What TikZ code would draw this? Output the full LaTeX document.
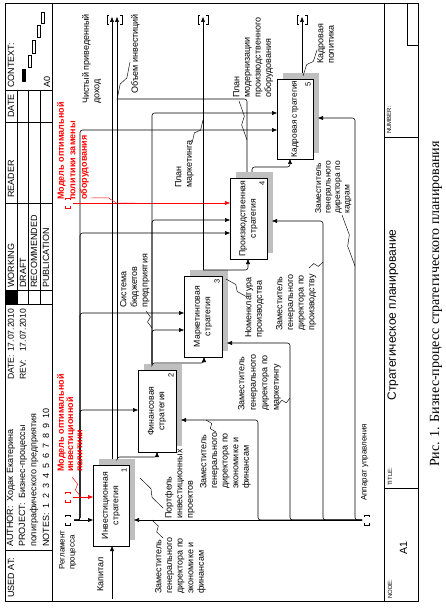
\documentclass[tikz,border=0pt]{standalone}
\usepackage{fontspec}
\setmainfont{Liberation Sans}
\newfontfamily\capfont{Liberation Serif}
\usetikzlibrary{arrows.meta,calc}
\newcommand\zigline[3][black]{\draw[lead,#1] (#2) -- ($(#2)!0.4!(#3)!2.2pt!90:(#3)$) -- ($(#2)!0.6!(#3)!2.2pt!-90:(#3)$) -- (#3);}
\begin{document}
\begin{tikzpicture}[x=1pt,y=-1pt,
  conn/.style={draw, line width=0.55pt, rounded corners=2.5pt},
  arr/.style={conn, -{Triangle[length=5pt,width=3.8pt]}},
  lead/.style={draw, line width=0.45pt},
  frm/.style={draw, line width=0.7pt},
  thn/.style={draw, line width=0.5pt},
  shd/.style={fill=black!25},
  box/.style={draw, line width=0.7pt, fill=white, rotate=90, align=center, inner sep=0.5pt, font=\fontsize{8.7}{10.5}\selectfont},
  num/.style={rotate=90, inner sep=0pt, font=\fontsize{7.5}{8}\selectfont},
  lbl/.style={rotate=90, anchor=north west, align=left, inner sep=0pt, font=\fontsize{9}{10.6}\selectfont},
  rlbl/.style={lbl, text=red, font=\fontsize{9}{9.2}\selectfont\bfseries},
  hdr/.style={rotate=90, anchor=west, inner sep=0pt, font=\fontsize{9}{10}\selectfont},
  sml/.style={rotate=90, anchor=west, inner sep=0pt, font=\fontsize{6}{7}\selectfont},
  tun/.style={draw, line width=0.5pt},
]
\useasboundingbox (0,0) rectangle (445,609);
% ---------- frame ----------
\draw[frm] (5,3) rectangle (418,601);
\draw[frm] (52,3) -- (52,601);
\draw[frm] (384,3) -- (384,601);
% header separators
\foreach \yy in {550,304,203,122,90} \draw[thn] (5,\yy) -- (52,\yy);
\draw[thn] (5,290) -- (52,290);
\foreach \xx in {17,28,40} \draw[thn] (\xx,90) -- (\xx,304);
\fill (5,290) rectangle (17,304);
% footer separators
\draw[thn] (384,488) -- (418,488);
\draw[thn] (384,137) -- (418,137);
\draw[thn] (407,3) |- (418,45);
% context mini diagram
\fill (22,69) rectangle (26,82);
\draw[thn] (28,55) rectangle (31,67);
\draw[thn] (32,40) rectangle (35,53);
\draw[thn] (37,25) rectangle (40,37);
\draw[thn] (41,12) rectangle (44,23);
% header texts
\node[hdr] (hUsed) at (11,598) {USED AT:};
\node[hdr] (hAuth) at (11,547) {AUTHOR:\ \ Ходак Екатерина};
\node[hdr] (hProj) at (23,547) {PROJECT:\ \ Бизнес-процессы};
\node[hdr] (hProj2) at (34,547) {полиграфического предприятия};
\node[hdr] (hNotes) at (46,547) {NOTES:\ \ 1\ \ 2\ \ 3\ \ 4\ \ 5\ \ 6\ \ 7\ \ 8\ \ 9\ \ 10};
\node[hdr, font=\fontsize{8.6}{10}\selectfont] (hDate) at (11,380) {\makebox[3.25em][l]{DATE:}17.07.2010};
\node[hdr, font=\fontsize{8.6}{10}\selectfont] (hRev) at (23,380) {\makebox[3.25em][l]{REV:}17.07.2010};
\node[hdr] (hW) at (11,288) {WORKING};
\node[hdr] (hD) at (23,288) {DRAFT};
\node[hdr] (hR) at (34,288) {RECOMMENDED};
\node[hdr] (hP) at (46,288) {PUBLICATION};
\node[hdr] (hReader) at (11,198) {READER};
\node[hdr] (hDate2) at (11,118) {DATE};
\node[hdr] (hCtx) at (11,88) {CONTEXT:};
\node[hdr] (hA0) at (47,88) {A0};
% footer texts
\node[sml] (fNode) at (390,599) {NODE:};
\node[rotate=90, inner sep=0pt, font=\fontsize{10.5}{12}\selectfont] (fA1) at (403.5,548.5) {A1};
\node[sml] (fTitle) at (390,486) {TITLE:};
\node[rotate=90, inner sep=0pt, font=\fontsize{12}{14}\selectfont] (fT) at (393,315) {Стратегическое планирование};
\node[sml] (fNum) at (389,134) {NUMBER:};
\node[rotate=90, inner sep=0pt, font=\capfont\fontsize{14}{16}\selectfont] (cap) at (436,304) {Рис. 1. Бизнес-процесс стратегического планирования};
% ---------- shadows ----------
\fill[shd] (99,459) rectangle (135,540);
\fill[shd] (144,364) rectangle (182,446);
\fill[shd] (190,270) rectangle (228,351);
\fill[shd] (236,172) rectangle (273,253);
\fill[shd] (283,73) rectangle (319,153);
% ---------- boxes ----------
\node[box, minimum width=81pt, minimum height=36pt] (b1) at (111,505.5) {Инвестиционная\\стратегия};
\node[box, minimum width=82pt, minimum height=38pt] (b2) at (157,411) {Финансовая\\стратегия};
\node[box, minimum width=81pt, minimum height=38pt] (b3) at (203,316.5) {Маркетинговая\\стратегия};
\node[box, minimum width=81pt, minimum height=37pt] (b4) at (248.5,218.5) {Производственная\\стратегия};
\node[box, minimum width=80pt, minimum height=36pt, font=\fontsize{8.3}{10}\selectfont] (b5) at (295,119) {Кадровая стратегия};
\node[num] (n1) at (124,470) {1};
\node[num] (n2) at (171,375) {2};
\node[num] (n3) at (217,281) {3};
\node[num] (n4) at (262,183) {4};
\node[num] (n5) at (308,84) {5};
% ---------- ports ----------
\coordinate (b1c1) at (93,497); \coordinate (b1c2) at (93,520);
\coordinate (b1i) at (112,546); \coordinate (b1o1) at (112,459); \coordinate (b1o2) at (117,459);
\coordinate (b1m) at (134,520);
\coordinate (b2c) at (138,410); \coordinate (b2i) at (157,452); \coordinate (b2o) at (152,364); \coordinate (b2m) at (181,420);
\coordinate (b3c1) at (184,313); \coordinate (b3c2) at (184,330); \coordinate (b3i) at (204,357); \coordinate (b3o) at (203,270); \coordinate (b3m) at (227,343);
\coordinate (b4c1) at (230,203); \coordinate (b4c2) at (230,220); \coordinate (b4c3) at (230,233); \coordinate (b4i) at (248,259);
\coordinate (b4o1) at (247,172); \coordinate (b4o2) at (252,172); \coordinate (b4m) at (272,221);
\coordinate (b5c1) at (277,113); \coordinate (b5c2) at (277,130); \coordinate (b5i) at (290,159); \coordinate (b5o) at (302,73); \coordinate (b5m) at (318,118);
% boundary ends
\coordinate (tL1) at (74,520); \coordinate (tL2) at (73,497); \coordinate (tL3) at (73,203);
\coordinate (tR) at (362,520);
\coordinate (tT1a) at (112,17); \coordinate (tT1b) at (117,17); \coordinate (tT2) at (203,17); \coordinate (tT3) at (302,17);
\coordinate (kap) at (112,599);
\coordinate (rail) at (80,520);
\coordinate (j1) at (117,99);
% tunnels
\draw[tun] (109,15) -- (107,15) -- (107,24) -- (109,24);
\draw[tun] (120,15) -- (122,15) -- (122,24) -- (120,24);
\draw[tun] (200,15) -- (198,15) -- (198,24) -- (200,24);
\draw[tun] (206,15) -- (208,15) -- (208,24) -- (206,24);
\draw[tun] (299,15) -- (297,15) -- (297,24) -- (299,24);
\draw[tun] (305,15) -- (307,15) -- (307,24) -- (305,24);
\foreach \yy/\cc in {520/black,497/red,203/red}{
  \draw[tun,\cc] (65,\yy-3) -- (65,\yy-5) -- (70,\yy-5) -- (70,\yy-3);
  \draw[tun,\cc] (65,\yy+3) -- (65,\yy+5) -- (70,\yy+5) -- (70,\yy+3);
}
\draw[tun] (364,517) -- (364,515) -- (369,515) -- (369,517);
\draw[tun] (364,523) -- (364,525) -- (369,525) -- (369,523);
% ---------- connectors ----------
\draw[arr] (kap) -- (b1i);
\draw[arr] (tL1) -- (b1c2);
\draw[arr] (tL1) -| (b2c -| rail) -- (b2c);
\draw[arr] (tL1) -| (b3c1 -| rail) -- (b3c1);
\draw[arr] (tL1) -| (b4c3 -| rail) -- (b4c3);
\draw[arr] (tL1) -| (b5c2 -| rail) -- (b5c2);
\draw[arr,red] (tL2) -- (b1c1);
\draw[arr,red] (tL3) -- (b4c1);
% box 1 outputs
\draw[arr] (b1o1) -- (tT1a);
\draw[arr] (b1o2) -- (tT1b);
\draw[arr] (b1o2) |- ($(b2i)+(0,5)$) -- (b2i);
% box 2 outputs
\draw[arr] (b2o) |- ($(b3i)+(0,6)$) -- (b3i);
\draw[arr] (b2o) |- (b3c2);
\draw[arr] (b2o) |- (b4c2);
\draw[arr] (b2o) |- (b5c1);
% box 3 outputs
\draw[arr] (b3o) -- (tT2);
\draw[arr] (b3o) -| (b4i);
% box 4 outputs
\draw[conn] (b4o1) |- (j1);
\draw[arr] (b4o2) |- ($(b5i)+(0,8)$) -- (b5i);
% box 5 output
\draw[arr] (b5o) -- (tT3);
% mechanisms
\draw[arr] (tR) -- (b1m);
\draw[arr] (tR) -| ($(b2m)+(77,0)$) -- (b2m);
\draw[arr] (tR) -| ($(b3m)+(63,0)$) -- (b3m);
\draw[arr] (tR) -| ($(b4m)+(51,0)$) -- (b4m);
\draw[arr] (tR) -| ($(b5m)+(37,0)$) -- (b5m);
% ---------- labels ----------
\node[lbl, font=\fontsize{8}{10}\selectfont] (lReg) at (59,570) {Регламент\\процесса};
\node[lbl] (lKap) at (97,592) {Капитал};
\node[rlbl] (lM1) at (57,472) {Модель оптимальной\\инвестиционной\\политики};
\node[rlbl, font=\fontsize{9}{11.5}\selectfont\bfseries] (lM2) at (57,200) {Модель оптимальной\\политики замены\\оборудования};
\node[lbl] (lNPV) at (82,104) {Чистый приведенный\\доход};
\node[lbl] (lVol) at (131,94) {Объем инвестиций};
\node[lbl] (lPort) at (165,519) {Портфель\\инвестиционных\\проектов};
\node[lbl] (lBud) at (120,308) {Система\\бюджетов\\предприятия};
\node[lbl] (lMkt) at (175,188) {План\\маркетинга};
\node[lbl] (lNom) at (245,338) {Номенклатура\\производства};
\node[lbl] (lMod) at (233,98) {План\\модернизации\\производственного\\оборудования};
\node[lbl] (lHR) at (317,64) {Кадровая\\политика};
\node[lbl] (lZ1) at (155,594) {Заместитель\\генерального\\директора по\\экономике и\\финансам};
\node[lbl] (lZ2) at (200,489) {Заместитель\\генерального\\директора по\\экономике и\\финансам};
\node[lbl, font=\fontsize{9}{11.5}\selectfont] (lZ3) at (238,411) {Заместитель\\генерального\\директора по\\маркетингу};
\node[lbl] (lZ4) at (276,331) {Заместитель\\генерального\\директора по\\производству};
\node[lbl, font=\fontsize{8.5}{9.5}\selectfont] (lZ5) at (315,214) {Заместитель\\генерального\\директора по\\кадрам};
\node[lbl, font=\fontsize{8}{9}\selectfont] (lApp) at (361,501) {Аппарат управления};
% ---------- leaders ----------
\coordinate (za1) at (72,477); \coordinate (za2) at (81,497);
\zigline[red]{za1}{za2}
\coordinate (zb1) at (90,198); \coordinate (zb2) at (135,203);
\zigline[red]{zb1}{zb2}
\coordinate (zc1) at (130,62); \coordinate (zc2) at (117,100);
\zigline{zc1}{zc2}
\coordinate (zd1) at (163,508); \coordinate (zd2) at (140,478);
\zigline{zd1}{zd2}
\coordinate (ze1) at (146,311); \coordinate (ze2) at (152,328);
\zigline{ze1}{ze2}
\coordinate (zf1) at (192,143); \coordinate (zf2) at (203,120);
\zigline{zf1}{zf2}
\coordinate (zg1) at (247,297); \coordinate (zg2) at (226,279);
\zigline{zg1}{zg2}
\coordinate (zh1) at (239,101); \coordinate (zh2) at (247,140);
\zigline{zh1}{zh2}
\coordinate (zi1) at (317,50); \coordinate (zi2) at (303,76);
\zigline{zi1}{zi2}
\coordinate (zj1) at (163,538); \coordinate (zj2) at (152,520);
\zigline{zj1}{zj2}
\coordinate (zk1) at (216,432); \coordinate (zk2) at (206,420);
\zigline{zk1}{zk2}
\coordinate (zl1) at (278,405); \coordinate (zl2) at (290,398);
\zigline{zl1}{zl2}
\coordinate (zm1) at (309,268); \coordinate (zm2) at (323,262);
\zigline{zm1}{zm2}
\coordinate (zn1) at (342,215); \coordinate (zn2) at (355,266);
\zigline{zn1}{zn2}
\end{tikzpicture}
\end{document}
